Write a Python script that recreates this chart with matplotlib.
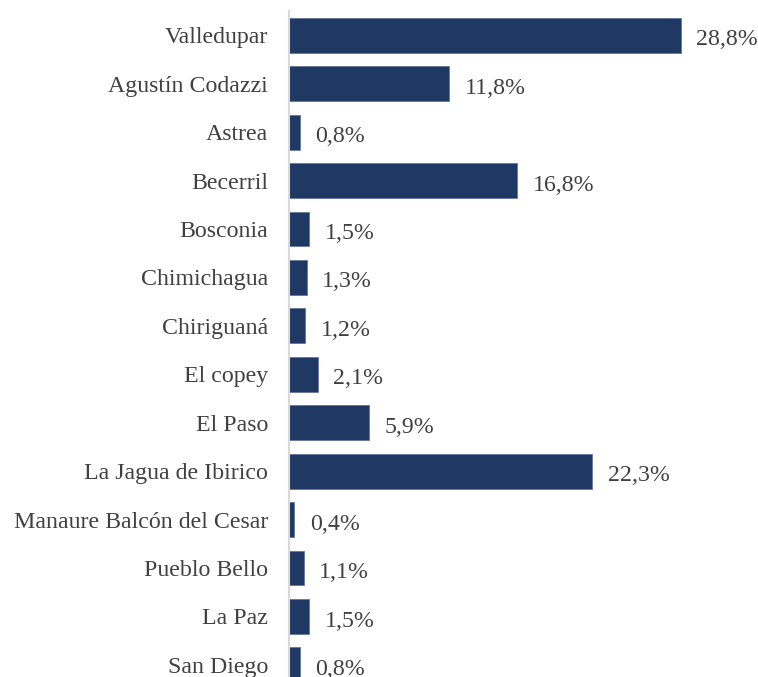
import matplotlib
matplotlib.use("Agg")
import matplotlib.pyplot as plt

municipios = [
    "Valledupar", "Agustín Codazzi", "Astrea", "Becerril", "Bosconia",
    "Chimichagua", "Chiriguaná", "El copey", "El Paso", "La Jagua de Ibirico",
    "Manaure Balcón del Cesar", "Pueblo Bello", "La Paz", "San Diego",
]
porcentajes = [28.8, 11.8, 0.8, 16.8, 1.5, 1.3, 1.2, 2.1, 5.9, 22.3, 0.4, 1.1, 1.5, 0.8]

plt.rcParams['font.family'] = ['Liberation Serif', 'DejaVu Serif']

fig = plt.figure(figsize=(7.58, 6.77), dpi=100)
ax = fig.add_axes([289 / 758, 0, 469 / 758, 666 / 677])

y = list(range(len(municipios)))
ax.barh(y, porcentajes, height=0.72, color='#203864',
        edgecolor='#5a6f96', linewidth=0.5)

for yi, v in zip(y, porcentajes):
    ax.annotate(f"{v:.1f}%".replace('.', ','), (v, yi), xytext=(11, -1.5),
                textcoords='offset points', va='center_baseline', ha='left',
                fontsize=17.2, color='#404040')

ax.set_yticks(y)
ax.set_yticklabels(municipios, fontsize=17.2, color='#404040',
                   va='center_baseline')
ax.tick_params(axis='y', length=0, pad=15)
ax.set_xticks([])
ax.set_xlim(0, 469 / 13.6)
ax.set_ylim(13.25, -0.5)

for s in ['top', 'right', 'bottom']:
    ax.spines[s].set_visible(False)
ax.spines['left'].set_color('#d9d9d9')
ax.spines['left'].set_linewidth(1.5)

fig.savefig('out.png', dpi=100)
